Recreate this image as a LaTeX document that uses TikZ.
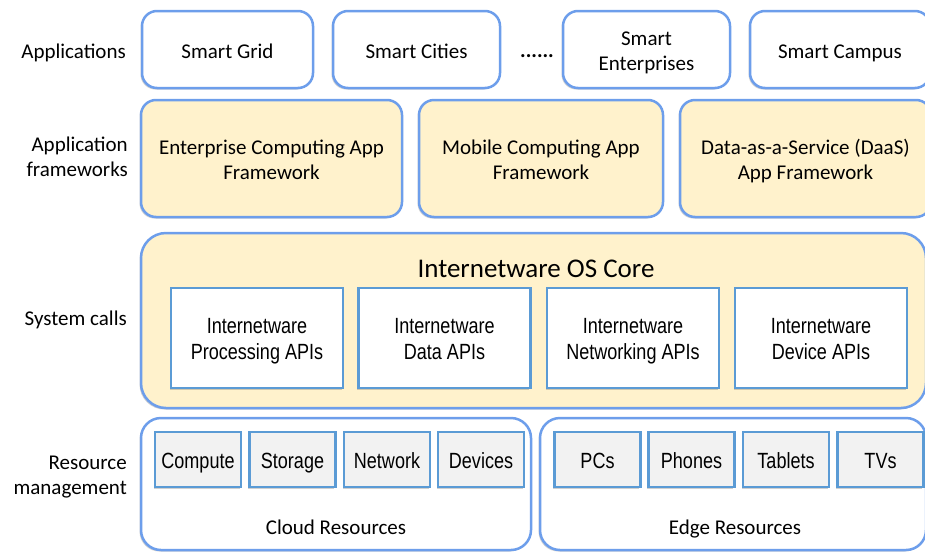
\documentclass[tikz,border=0pt]{standalone}
\usepackage{fontspec}
\setmainfont{Carlito}
\newfontfamily\narrowfont[FakeStretch=0.82]{Liberation Sans}
\usetikzlibrary{shadows}

\definecolor{boxblue}{RGB}{109,158,235}
\definecolor{apiblue}{RGB}{91,155,213}
\definecolor{corefill}{RGB}{255,242,204}
\definecolor{itemfill}{RGB}{242,242,242}

\tikzset{
  softshadow/.style={drop shadow={shadow xshift=-1.5pt,shadow yshift=-1.5pt,opacity=0.3,fill=black!60}},
  struts/.style={execute at begin node=\strut,execute at end node=\strut},
  boxstruts/.style={execute at begin node=\rule{0pt}{#1\baselineskip},
    execute at end node=\rule[-0.14\baselineskip]{0pt}{0.14\baselineskip}},
  boxstruts/.default=0.86,
  appbox/.style={draw=boxblue,line width=2.5pt,rounded corners=15pt,fill=white,softshadow,boxstruts,
    align=center,font=\fontsize{21}{25.5}\selectfont,minimum height=77pt},
  fwbox/.style={appbox,boxstruts=1.8,fill=corefill,minimum height=117pt},
  corebox/.style={draw=boxblue,line width=2.5pt,rounded corners=25pt,fill=corefill,softshadow},
  resbox/.style={draw=boxblue,line width=2.5pt,rounded corners=20pt,fill=white,softshadow,minimum height=132pt},
  apibox/.style={draw=apiblue,line width=2.5pt,fill=white,softshadow,boxstruts=1.82,align=center,
    font=\narrowfont\fontsize{22}{26}\selectfont,minimum width=172pt,minimum height=100pt},
  itembox/.style={draw=apiblue,line width=2.5pt,fill=itemfill,softshadow,boxstruts,
    font=\narrowfont\fontsize{22}{26}\selectfont,minimum width=86pt,minimum height=55pt,inner sep=0pt},
  layerlabel/.style={anchor=east,align=right,inner sep=0pt,struts,font=\fontsize{21}{25.5}\selectfont},
  plaintext/.style={inner sep=0pt,struts,font=\fontsize{21}{25.5}\selectfont}
}

\begin{document}
\begin{tikzpicture}[x=1pt,y=-1pt]

\useasboundingbox (0,0) rectangle (925,552);

% layer labels
\node[layerlabel] (lapps) at (126,53) {Applications};
\node[layerlabel] (lfw) at (128,160.5) {Application\\frameworks};
\node[layerlabel] (lsys) at (127,320) {System calls};
\node[layerlabel] (lres) at (127,479) {Resource\\management};

% applications
\node[appbox,minimum width=171pt] (grid) at (227.5,49.5) {Smart Grid};
\node[appbox,minimum width=167pt] (cities) at (416.5,49.5) {Smart Cities};
\node[plaintext] (dots) at (537,52) {\textbf{......}};
\node[appbox,boxstruts=1.8,minimum width=167pt] (enterprises) at (646.5,49.5) {Smart\\Enterprises};
\node[appbox,minimum width=180pt] (campus) at (840,49.5) {Smart Campus};

% application frameworks
\node[fwbox,minimum width=261pt] (entfw) at (271.5,158.5) {Enterprise Computing App\\Framework};
\node[fwbox,minimum width=244pt] (mobfw) at (541,158.5) {Mobile Computing App\\Framework};
\node[fwbox,minimum width=251pt] (daasfw) at (805.5,158.5) {Data-as-a-Service (DaaS)\\App Framework};

% OS core
\node[corebox,minimum width=785pt,minimum height=175pt] (core) at (533.5,320.5) {};
\node[plaintext,font=\fontsize{27}{32}\selectfont] (coretitle) at (536,271) {Internetware OS Core};
\foreach \name/\x/\txt in {proc/257/Processing APIs, data/444.5/Data APIs,
                           net/633/Networking APIs, dev/821/Device APIs}
  \node[apibox] (\name) at (\x,338) {Internetware\\\txt};

% resources
\node[resbox,minimum width=390pt] (cloud) at (336,484) {};
\node[resbox,minimum width=386pt] (edge) at (733,484) {};
\node[plaintext] (cloudlabel) at (336,529) {Cloud Resources};
\node[plaintext] (edgelabel) at (735,529) {Edge Resources};
\foreach \name/\x in {Compute/198, Storage/292.5, Network/387, Devices/481,
                      PCs/597.5, Phones/691.5, Tablets/786, TVs/880.5}
  \node[itembox] (\name) at (\x,459.5) {\name};

\end{tikzpicture}
\end{document}
